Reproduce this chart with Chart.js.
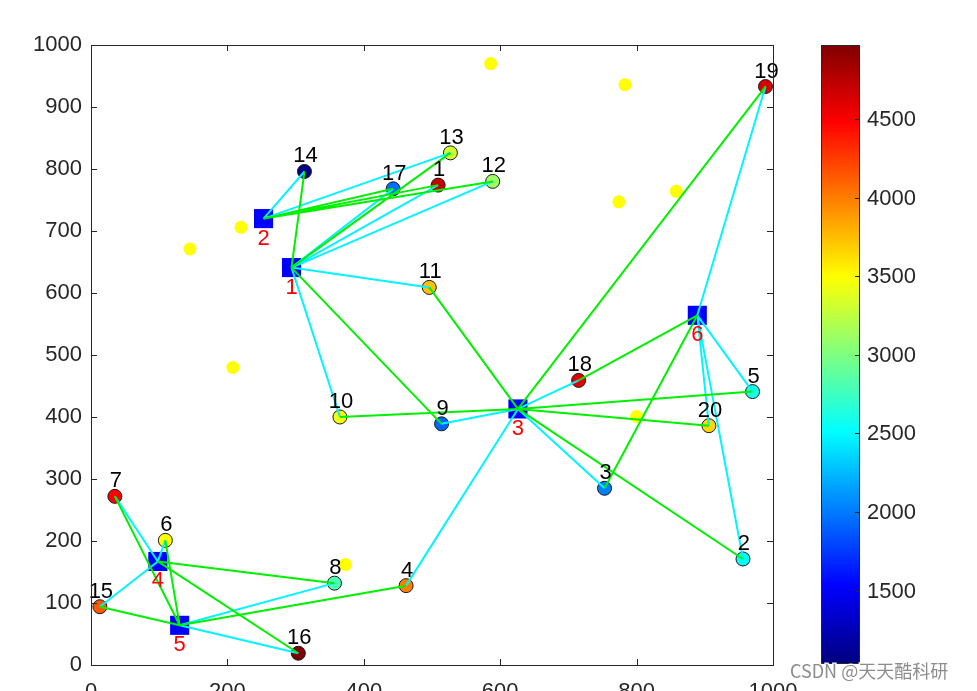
<!DOCTYPE html>
<html>
<head>
<meta charset="utf-8">
<script src="https://cdn.jsdelivr.net/npm/chart.js@4.4.0/dist/chart.umd.min.js"></script>
<style>
  html, body { margin: 0; padding: 0; background: #fff; }
  canvas { display: block; }
</style>
</head>
<body>
<canvas id="chart" width="977" height="691"></canvas>
<script>
// demand points (circles numbered 1..20), colour = demand value
const demandX = [509, 956, 753, 462, 970, 109, 35, 357, 514, 365, 496, 589, 527, 313, 13, 304, 443, 715, 989, 906];
const demandY = [774, 171, 285, 128, 441, 201, 272, 132, 389, 400, 609, 780, 826, 796, 94, 19, 768, 459, 933, 386];
const demandValue = [4690, 2520, 2020, 3990, 2610, 3500, 4480, 2810, 1920, 3450, 3740, 3120, 3300, 1060, 4140, 4970, 1950, 4580, 4620, 3650];

// opened facilities (blue squares numbered 1..6)
const facilityX = [294, 253, 626, 98, 130, 889];
const facilityY = [641, 720, 413, 167, 64, 564];

// candidate sites not opened (yellow dots)
const candidateX = [145, 220, 208, 586, 783, 774, 858, 800, 373];
const candidateY = [671, 706, 480, 970, 936, 747, 764, 401, 162];

// facility serving each demand point (1-based)
const primaryFacility   = [1, 6, 3, 3, 6, 4, 4, 5, 3, 1, 1, 1, 2, 2, 4, 5, 1, 3, 6, 6]; // cyan
const secondaryFacility = [2, 3, 6, 5, 3, 5, 5, 4, 1, 3, 3, 2, 1, 1, 5, 4, 2, 6, 3, 3]; // green

const xTicks = [0, 200, 400, 600, 800, 1000];
const yTicks = [0, 100, 200, 300, 400, 500, 600, 700, 800, 900, 1000];
const colorTicks = [1500, 2000, 2500, 3000, 3500, 4000, 4500];
const colorMin = 1040;
const colorMax = 4970;

const FONT = '"Liberation Sans", Arial, Helvetica, sans-serif';
const AXIS = '#262626';

function jet(v) {
  const t = (v - colorMin) / (colorMax - colorMin);
  const c = k => Math.round(255 * Math.max(0, Math.min(1, 1.5 - Math.abs(4 * t - k))));
  return 'rgb(' + c(3) + ',' + c(2) + ',' + c(1) + ')';
}

function links(assign) {
  const pts = [];
  assign.forEach((f, i) => {
    pts.push({x: facilityX[f - 1], y: facilityY[f - 1]});
    pts.push({x: demandX[i], y: demandY[i]});
    pts.push({x: null, y: null});
  });
  return pts;
}

const decor = {
  id: 'decor',
  afterDatasetsDraw(chart) {
    const {ctx, scales: {x, y}} = chart;
    ctx.save();
    ctx.textAlign = 'center';
    ctx.textBaseline = 'alphabetic';
    ctx.font = '22px ' + FONT;
    ctx.fillStyle = '#000';
    demandX.forEach((v, i) => {
      ctx.fillText(String(i + 1), x.getPixelForValue(v) + 1, y.getPixelForValue(demandY[i]) - 9);
    });
    ctx.fillStyle = '#ff0000';
    facilityX.forEach((v, i) => {
      ctx.fillText(String(i + 1), x.getPixelForValue(v), y.getPixelForValue(facilityY[i]) + 26);
    });
    ctx.restore();
  },
  afterDraw(chart) {
    const {ctx, chartArea: a, scales: {x, y}} = chart;
    ctx.save();
    ctx.strokeStyle = AXIS;
    ctx.lineWidth = 1;
    ctx.strokeRect(a.left + 0.5, a.top + 0.5, a.right - a.left, a.bottom - a.top);
    ctx.beginPath();
    xTicks.forEach(v => {
      const px = Math.round(x.getPixelForValue(v)) + 0.5;
      ctx.moveTo(px, a.bottom); ctx.lineTo(px, a.bottom - 6);
      ctx.moveTo(px, a.top); ctx.lineTo(px, a.top + 6);
    });
    yTicks.forEach(v => {
      const py = Math.round(y.getPixelForValue(v)) + 0.5;
      ctx.moveTo(a.left, py); ctx.lineTo(a.left + 6, py);
      ctx.moveTo(a.right, py); ctx.lineTo(a.right - 6, py);
    });
    ctx.stroke();

    // colour bar
    const cbL = 821, cbR = 859, cbT = 45, cbB = 663;
    const grad = ctx.createLinearGradient(0, cbT, 0, cbB);
    for (let k = 0; k <= 64; k++) {
      grad.addColorStop(k / 64, jet(colorMax - k / 64 * (colorMax - colorMin)));
    }
    ctx.fillStyle = grad;
    ctx.fillRect(cbL, cbT, cbR - cbL, cbB - cbT);
    ctx.strokeRect(cbL + 0.5, cbT + 0.5, cbR - cbL, cbB - cbT);
    ctx.fillStyle = AXIS;
    ctx.font = '22px ' + FONT;
    ctx.textAlign = 'left';
    ctx.textBaseline = 'middle';
    ctx.beginPath();
    colorTicks.forEach(v => {
      const py = Math.round(cbT + (colorMax - v) / (colorMax - colorMin) * (cbB - cbT)) + 0.5;
      ctx.moveTo(cbR, py); ctx.lineTo(cbR - 4, py);
      ctx.fillText(String(v), 867, py);
    });
    ctx.stroke();

    // watermark
    ctx.font = '18px "Noto Sans CJK SC", sans-serif';
    ctx.textBaseline = 'alphabetic';
    ctx.lineWidth = 3;
    ctx.strokeStyle = 'rgba(255,255,255,0.9)';
    ctx.strokeText('CSDN @天天酷科研', 790, 678);
    ctx.fillStyle = 'rgba(120,120,120,0.85)';
    ctx.fillText('CSDN @天天酷科研', 790, 678);
    ctx.restore();
  }
};

new Chart(document.getElementById('chart'), {
  type: 'scatter',
  data: {
    datasets: [
      {
        type: 'line', data: links(secondaryFacility), borderColor: 'rgb(0,240,0)', borderWidth: 2,
        pointRadius: 0, fill: false, tension: 0, order: 1
      },
      {
        type: 'line', data: links(primaryFacility), borderColor: 'rgb(0,245,255)', borderWidth: 2,
        pointRadius: 0, fill: false, tension: 0, order: 2
      },
      {
        data: facilityX.map((v, i) => ({x: v, y: facilityY[i]})),
        pointStyle: 'rect', pointRadius: 13.5, backgroundColor: '#0000ff', borderWidth: 0, order: 3
      },
      {
        data: demandX.map((v, i) => ({x: v, y: demandY[i]})),
        pointRadius: 7, backgroundColor: demandValue.map(jet), borderColor: '#1a1a1a', borderWidth: 1, order: 4
      },
      {
        data: candidateX.map((v, i) => ({x: v, y: candidateY[i]})),
        pointRadius: 6.5, backgroundColor: '#ffff00', borderWidth: 0, order: 5
      }
    ]
  },
  options: {
    responsive: false,
    animation: false,
    events: [],
    layout: {padding: {top: 45, right: 204, left: 0, bottom: 0}},
    plugins: {legend: {display: false}, tooltip: {enabled: false}},
    scales: {
      x: {
        type: 'linear', min: 0, max: 1000,
        afterBuildTicks: s => { s.ticks = xTicks.map(v => ({value: v})); },
        afterFit: s => { s.height = 26; s.paddingLeft = 0; s.paddingRight = 0; },
        grid: {display: false, drawTicks: false},
        border: {display: false},
        ticks: {padding: 14, color: AXIS, font: {family: FONT, size: 22}, maxRotation: 0, callback: v => String(v)}
      },
      y: {
        type: 'linear', min: 0, max: 1000,
        afterBuildTicks: s => { s.ticks = yTicks.map(v => ({value: v})); },
        afterFit: s => { s.width = 91; s.paddingTop = 0; s.paddingBottom = 0; },
        grid: {display: false, drawTicks: false},
        border: {display: false},
        ticks: {padding: 9, color: AXIS, font: {family: FONT, size: 22}, callback: v => String(v)}
      }
    }
  },
  plugins: [decor]
});
</script>
</body>
</html>
